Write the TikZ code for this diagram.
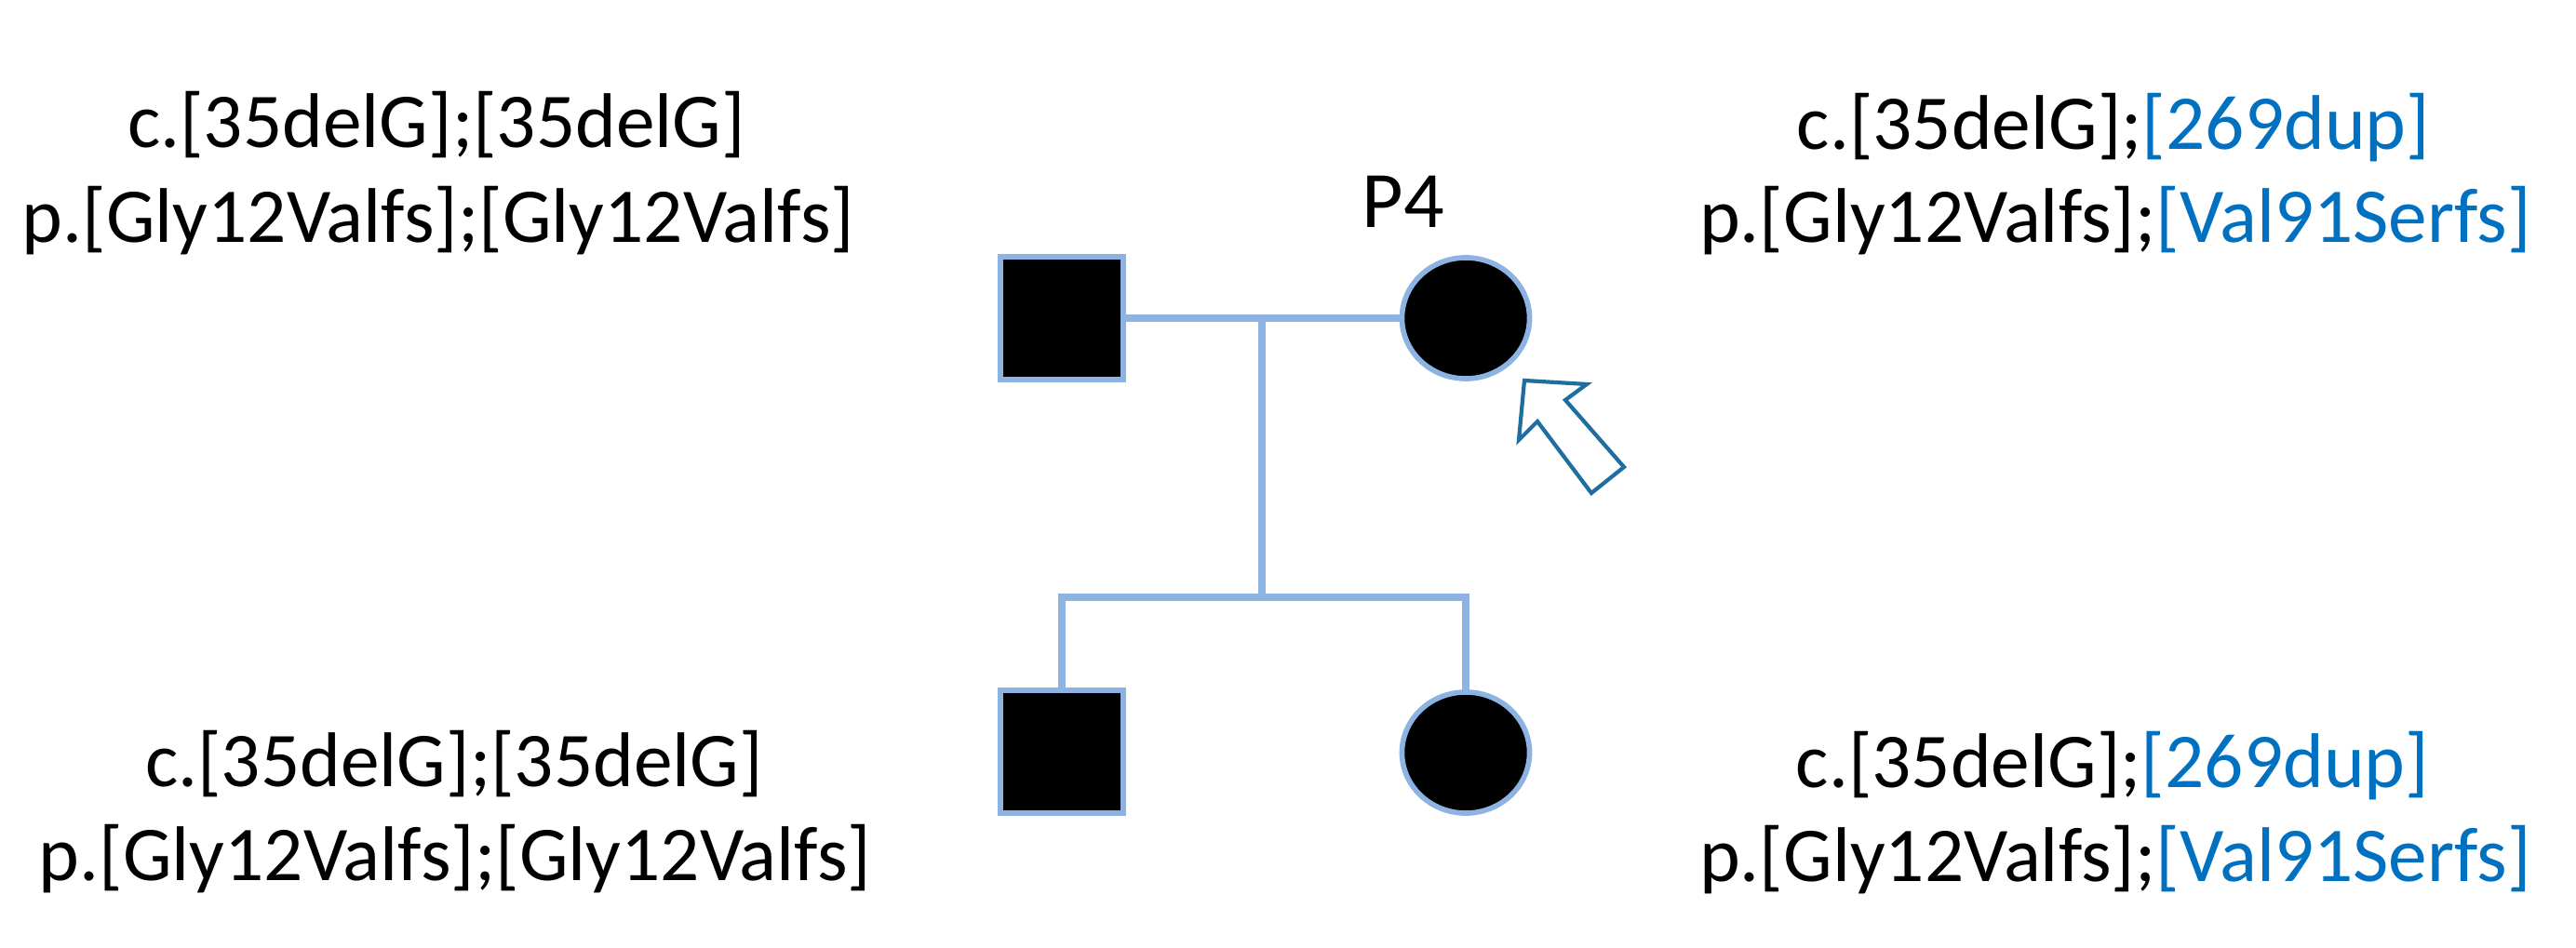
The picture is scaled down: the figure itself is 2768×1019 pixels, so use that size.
\documentclass[tikz,border=0pt]{standalone}
\usepackage{fontspec}
\setmainfont{Carlito}
\usetikzlibrary{shapes.geometric}
\definecolor{pedline}{RGB}{141,179,226}
\definecolor{mutblue}{RGB}{0,112,192}
\definecolor{arrowblue}{RGB}{31,110,160}
\begin{document}
\begin{tikzpicture}[x=0.01cm,y=-0.01cm,
  txt/.style={font=\fontsize{23.7}{28}\selectfont, inner sep=0pt, anchor=base},
  male/.style={rectangle, draw=pedline, fill=black, line width=1.6pt, minimum size=1.32cm, inner sep=0pt},
  female/.style={ellipse, draw=pedline, fill=black, line width=1.6pt, minimum width=1.37cm, minimum height=1.30cm, inner sep=0pt},
  pline/.style={draw=pedline, line width=2pt},
  probandarrow/.style={draw=arrowblue, line width=1.2pt, line join=miter, fill=white}]
\useasboundingbox[fill=white] (0,0) rectangle (2768,1019);

% pedigree symbols
\node[male] (father) at (1141,342) {};
\node[female] (mother) at (1575,342) {};
\node[male] (son) at (1141,808) {};
\node[female] (daughter) at (1575,809) {};

% connectors
\coordinate (mid) at (1356,342);
\coordinate (sib) at (1356,642);
\draw[pline] (father.east) -- (mother.west);
\draw[pline] (mid) -- (sib);
\draw[pline] (son.north) |- (sib) -| (daughter.north);

% proband label and arrow
\node[txt, font=\fontsize{24.5}{28}\selectfont] (p4) at (1508,245) {P4};
\draw[probandarrow] (1638,409) -- (1705,413) -- (1682,430) -- (1745,502) -- (1710,530) -- (1652,453) -- (1632,473) -- cycle;

% genotype labels
\node[txt] (tl1) at (469,159) {c.[35delG];[35delG]};
\node[txt] (tl2) at (471,261) {p.[Gly12Valfs];[Gly12Valfs]};
\node[txt] (tr1) at (2271,161) {c.[35delG];\textcolor{mutblue}{[269dup]}};
\node[txt] (tr2) at (2273,261) {p.[Gly12Valfs];\textcolor{mutblue}{[Val91Serfs]}};
\node[txt] (bl1) at (488,846) {c.[35delG];[35delG]};
\node[txt] (bl2) at (489,947) {p.[Gly12Valfs];[Gly12Valfs]};
\node[txt] (br1) at (2270,847) {c.[35delG];\textcolor{mutblue}{[269dup]}};
\node[txt] (br2) at (2273,948) {p.[Gly12Valfs];\textcolor{mutblue}{[Val91Serfs]}};
\end{tikzpicture}
\end{document}
